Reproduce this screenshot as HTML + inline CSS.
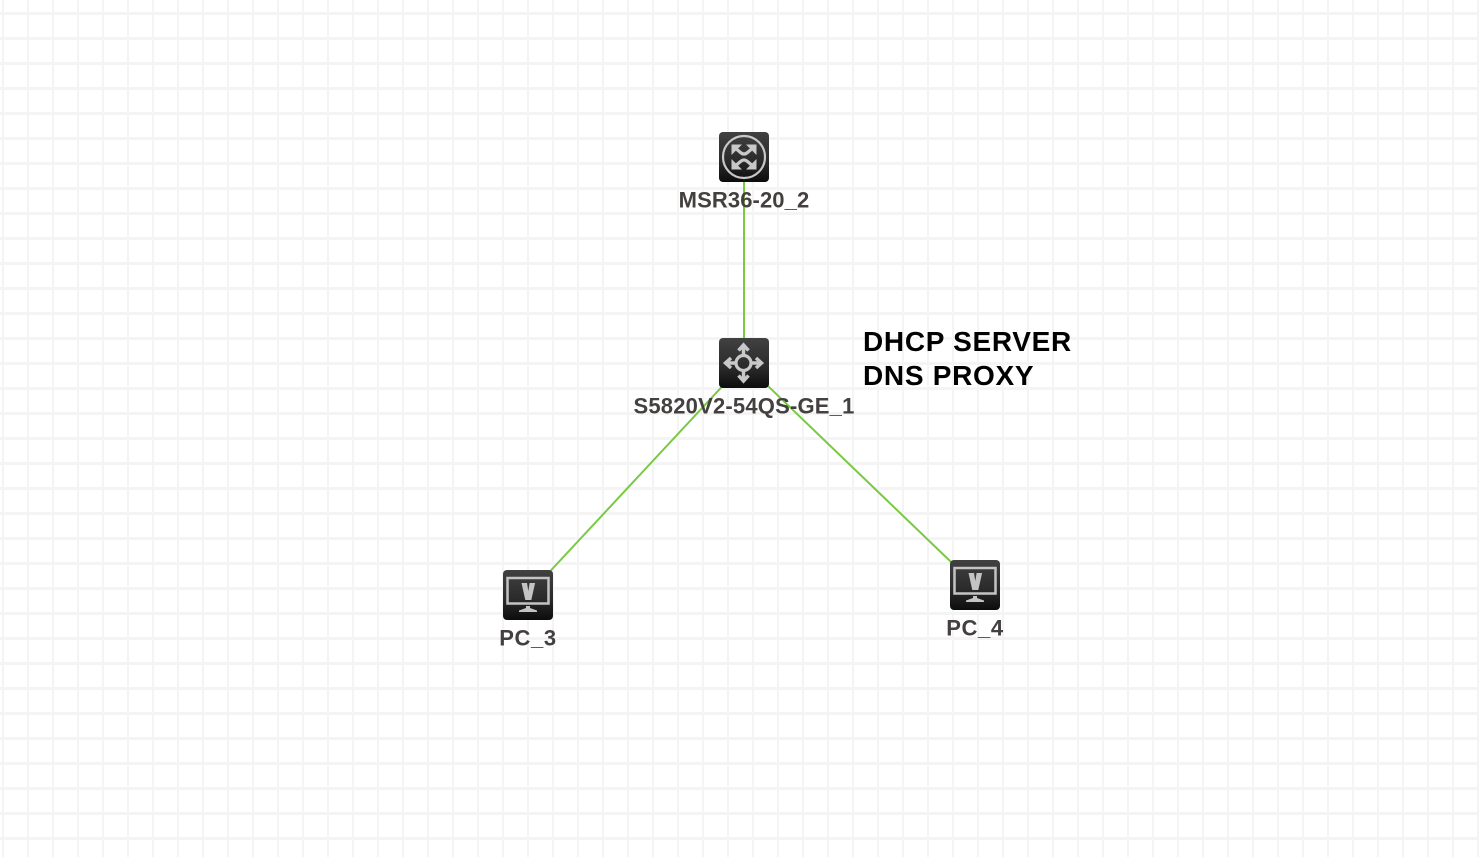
<!DOCTYPE html>
<html>
<head>
<meta charset="utf-8">
<style>
html,body{margin:0;padding:0;background:#fff;width:1479px;height:857px;overflow:hidden}
svg{display:block}
.l{font-family:"Liberation Sans",sans-serif;font-weight:bold;font-size:22px;fill:#454040;text-anchor:middle}
.t{font-family:"Liberation Sans",sans-serif;font-weight:bold;font-size:28px;fill:#000;letter-spacing:0.7px}
</style>
</head>
<body>
<svg width="1479" height="857" viewBox="0 0 1479 857" xmlns="http://www.w3.org/2000/svg">
<defs>
<pattern id="g" width="25" height="25" patternUnits="userSpaceOnUse">
<rect x="2" y="0" width="2" height="25" fill="#f4f4f4"/>
<rect x="0" y="12" width="25" height="3" fill="#f4f4f4"/>
</pattern>
<linearGradient id="b" x1="0" y1="0" x2="0" y2="1">
<stop offset="0" stop-color="#414141"/>
<stop offset="0.6" stop-color="#2a2a2a"/>
<stop offset="1" stop-color="#0c0c0c"/>
</linearGradient>
<g id="pc">
<rect width="50" height="50" rx="4" fill="url(#b)"/>
<rect x="4.500" y="8" width="41" height="25.500" fill="none" stroke="#c4c4c4" stroke-width="2.500"/>
<path d="M18.500 13h5.500l1.300 8 1.300-8h5.500l-3.800 17h-6z" fill="#c4c4c4"/>
<path d="M23 36h4v2l7 2.500v1.500h-18v-1.500l7-2.500z" fill="#c4c4c4"/>
</g>
</defs>
<rect width="1479" height="857" fill="url(#g)"/>

<g stroke="#7ac943" stroke-width="2" fill="none">
<line x1="744" y1="157" x2="744" y2="363"/>
<line x1="744" y1="363" x2="528" y2="595"/>
<line x1="744" y1="363" x2="975" y2="585"/>
</g>

<!-- Router -->
<g transform="translate(719,132)">
<rect width="50" height="50" rx="4" fill="url(#b)"/>
<circle cx="25" cy="25" r="21" fill="none" stroke="#c8c8c8" stroke-width="2.200"/>
<g fill="#c8c8c8">
<path d="M12.500 12.500h10.500l-10.500 10.500z"/>
<path d="M37.500 12.500h-10.500l10.500 10.500z"/>
<path d="M12.500 37.500h10.500l-10.500-10.500z"/>
<path d="M37.500 37.500h-10.500l10.500-10.500z"/>
</g>
<g fill="none" stroke="#c8c8c8" stroke-width="3.200">
<path d="M15 15L21.500 20.500Q25 23.500 28.500 20.500L35 15"/>
<path d="M15 35L21.500 29.500Q25 26.500 28.500 29.500L35 35"/>
</g>
</g>

<!-- Switch -->
<g transform="translate(719,338)">
<rect width="50" height="50" rx="4" fill="url(#b)"/>
<circle cx="24.500" cy="25" r="7.500" fill="none" stroke="#c8c8c8" stroke-width="3.200"/>
<g stroke="#c8c8c8" stroke-width="3.500" fill="none">
<line x1="24.500" y1="8" x2="24.500" y2="17"/>
<line x1="24.500" y1="33" x2="24.500" y2="42"/>
<line x1="8" y1="25" x2="16" y2="25"/>
<line x1="33" y1="25" x2="41" y2="25"/>
<path d="M19.500 12.500l5-5.500 5 5.500"/>
<path d="M19.500 37.500l5 5.500 5-5.500"/>
<path d="M12 20l-5.500 5 5.500 5"/>
<path d="M37 20l5.500 5-5.500 5"/>
</g>
</g>

<use href="#pc" transform="translate(503,570)"/>
<use href="#pc" transform="translate(950,560)"/>

<text class="l" x="744" y="207.500" style="letter-spacing:.1px">MSR36-20_2</text>
<text class="l" x="744" y="413.500" style="letter-spacing:.2px">S5820V2-54QS-GE_1</text>
<text class="l" x="528" y="645.500" style="letter-spacing:.6px">PC_3</text>
<text class="l" x="975" y="635.500" style="letter-spacing:.6px">PC_4</text>
<text class="t" x="863" y="351">DHCP SERVER</text>
<text class="t" x="863" y="385">DNS PROXY</text>
</svg>
</body>
</html>
